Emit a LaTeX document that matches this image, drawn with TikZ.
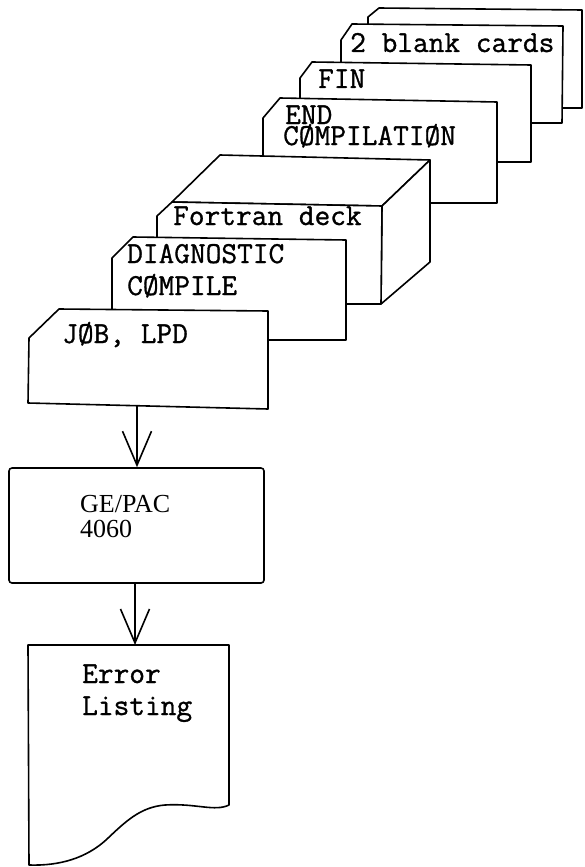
\documentclass[tikz,border=0pt]{standalone}
\usepackage{fontspec}
\usetikzlibrary{arrows.meta}
\newfontfamily\typerfont{Latin Modern Mono}[FakeBold=1.0]
\newfontfamily\labelfont{Liberation Serif}
\begin{document}
\begin{tikzpicture}[x=1pt,y=-1pt,
  line join=round,
  card/.style={draw=black, fill=white, line width=1.6pt},
  tw/.style={anchor=base west, inner sep=0pt, font=\typerfont\fontsize{30.5}{30.5}\selectfont},
  rm/.style={anchor=base west, inner sep=0pt, font=\labelfont\fontsize{26}{26}\selectfont},
  flow/.style={line width=1.4pt, -{Straight Barb[length=34pt,width=29pt,line width=1.6pt]}},
  procbox/.style={draw=black, line width=1.6pt, rounded corners=3pt, inner sep=0pt,
    minimum width=255pt, minimum height=115pt}]
\useasboundingbox (0,0) rectangle (584,867);

% card deck, drawn from the back card forward
\draw[card] (368,17) -- (379,8) -- (582,10) -- (582,108) -- (368,108) -- cycle;
\draw[card] (341,40) -- (352,24) -- (563,26) -- (562,123) -- (341,123) -- cycle;
\node[tw] (blank) at (350,52) {2 blank cards};

\draw[card] (300,78) -- (312,62) -- (531,65) -- (531,162) -- (300,162) -- cycle;
\node[tw] (fin) at (318,88) {FIN};

\draw[card] (263,118) -- (280,98) -- (497,102) -- (497,203) -- (263,203) -- cycle;
\node[tw] (end1) at (285,124) {END};
\node[tw] (end2) at (283,145) {CØMPILATIØN};

% Fortran deck as a block
\draw[card] (172,202) -- (220,155) -- (430,160) -- (382,206) -- cycle;
\draw[card] (382,206) -- (430,160) -- (430,262) -- (381,304) -- cycle;
\draw[card] (157,216) -- (172,202) -- (382,206) -- (381,304) -- (157,304) -- cycle;
\node[tw] (fortran) at (173,225) {Fortran deck};

\draw[card] (112,258) -- (133,237) -- (346,240) -- (346,340) -- (112,340) -- cycle;
\node[tw] (diag1) at (127,263) {DIAGNOSTIC};
\node[tw] (diag2) at (127,295) {CØMPILE};

\draw[card] (29,338) -- (59,309) -- (268,311) -- (268,409) -- (28,403) -- cycle;
\node[tw] (job) at (62,343) {JØB, LPD};
\coordinate (jobfoot) at (137,406);

% processor
\node[procbox] (gepac) at (136.5,525.5) {};
\node[rm] (ge1) at (80,512) {GE/PAC};
\node[rm] (ge2) at (80,537) {4060};

% printed listing
\draw[card] (28,645) -- (229,645) -- (229,805)
  .. controls (215,812) and (195,803) .. (165,805)
  .. controls (140,807) and (125,822) .. (106,840)
  .. controls (86,858) and (60,866) .. (29,865) -- cycle;
\coordinate (errtop) at (135,645);
\node[tw] (err1) at (82,683) {Error};
\node[tw] (err2) at (82,715) {Listing};

% flow arrows
\draw[flow] (jobfoot) -- (jobfoot |- gepac.north);
\draw[flow] (gepac.south -| errtop) -- (errtop);
\end{tikzpicture}
\end{document}
